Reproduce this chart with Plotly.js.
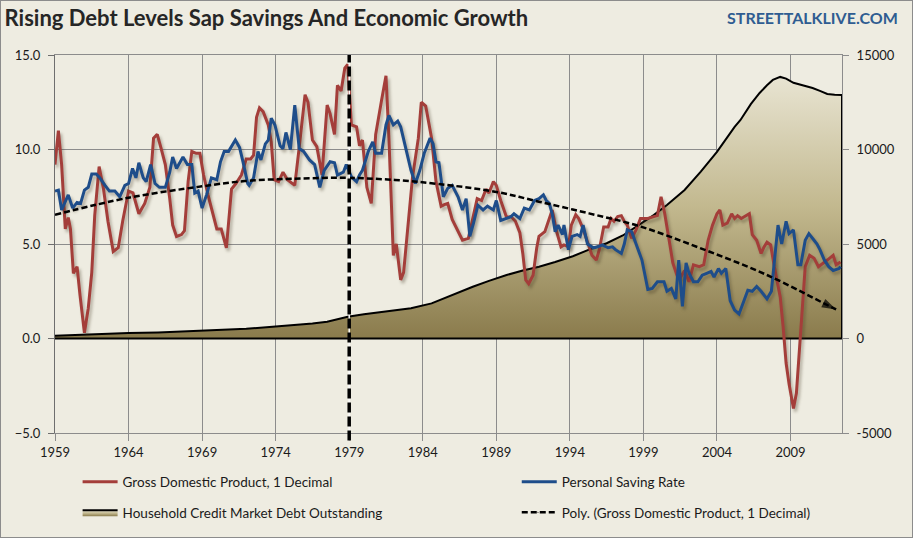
<!DOCTYPE html>
<html><head><meta charset="utf-8">
<script src="https://cdn.plot.ly/plotly-3.0.1.min.js"></script>
<style>
html,body{margin:0;padding:0;background:#EEECE1;}
#wrap{position:relative;width:913px;height:538px;}
#chart{width:913px;height:538px;}
#frame{position:absolute;left:0;top:0;width:913px;height:538px;box-sizing:border-box;border:1px solid #8c8c8c;pointer-events:none;}
.tracegdp .js-line, .tracesav .js-line {filter: drop-shadow(2px 3px 1.5px rgba(60,50,30,0.35));}
</style></head>
<body><div id="wrap"><div id="chart"></div><div id="frame"></div></div>
<script>
// ---- data ----
const tickYears = [1959, 1964, 1969, 1974, 1979, 1984, 1989, 1994, 1999, 2004, 2009];
const leftTicks = [-5, 0, 5, 10, 15];
const rightTicks = [-5000, 0, 5000, 10000, 15000];
const markYear = 1979;

const gdpYears = [1959.0,1959.23,1959.45,1959.7,1959.9,1960.05,1960.25,1960.5,1960.7,1961.0,1961.26,1961.5,1961.7,1962.0,1962.3,1962.6,1962.96,1963.3,1963.6,1964.0,1964.3,1964.7,1965.1,1965.45,1965.7,1965.95,1966.2,1966.5,1966.8,1967.0,1967.26,1967.6,1967.8,1968.05,1968.3,1968.6,1968.85,1969.1,1969.4,1969.75,1970.0,1970.3,1970.65,1971.0,1971.3,1971.67,1972.0,1972.3,1972.5,1972.7,1972.9,1973.15,1973.5,1973.7,1973.9,1974.2,1974.5,1974.8,1975.3,1975.6,1976.0,1976.2,1976.5,1976.8,1977.15,1977.5,1977.7,1978.0,1978.2,1978.45,1978.7,1978.9,1979.15,1979.5,1979.7,1979.9,1980.2,1980.5,1980.8,1981.2,1981.5,1981.7,1982.0,1982.2,1982.5,1982.7,1983.0,1983.3,1983.7,1983.9,1984.2,1984.6,1984.9,1985.25,1985.5,1985.7,1986.0,1986.4,1986.7,1987.1,1987.4,1987.7,1988.0,1988.3,1988.5,1988.8,1989.0,1989.3,1989.7,1990.0,1990.3,1990.6,1990.8,1991.0,1991.2,1991.5,1991.75,1991.9,1992.3,1992.6,1992.8,1993.1,1993.4,1993.6,1993.9,1994.1,1994.4,1994.6,1994.9,1995.2,1995.5,1995.8,1996.0,1996.3,1996.6,1996.8,1997.0,1997.25,1997.5,1997.7,1997.9,1998.2,1998.5,1998.8,1999.3,1999.7,1999.95,2000.2,2000.45,2000.75,2001.0,2001.3,2001.5,2001.8,2002.1,2002.4,2002.8,2003.1,2003.4,2003.7,2004.0,2004.2,2004.4,2004.7,2005.0,2005.2,2005.4,2005.65,2005.95,2006.2,2006.4,2006.7,2007.0,2007.2,2007.4,2007.65,2007.9,2008.15,2008.3,2008.5,2008.7,2008.9,2009.2,2009.4,2009.6,2009.8,2010.0,2010.3,2010.6,2010.9,2011.2,2011.5,2011.9,2012.1,2012.4];
const gdpValues = [9.2,11.0,9.2,5.8,6.4,5.8,3.45,3.8,2.3,0.3,1.6,3.5,6.5,9.1,7.9,6.2,4.6,4.8,6.2,7.8,7.7,6.6,7.15,8.0,10.6,10.8,10.1,9.2,7.4,6.0,5.4,5.5,5.7,8.3,9.9,9.8,9.8,8.65,7.6,6.5,5.8,5.8,4.8,7.9,8.2,8.65,9.5,9.5,9.7,11.7,12.2,12.0,11.3,10.4,8.4,8.3,8.8,8.4,8.1,10.1,12.9,12.5,10.5,10.15,8.65,12.35,11.9,10.8,13.4,13.1,14.3,14.5,11.3,11.2,10.2,10.5,8.0,7.15,10.8,12.6,13.9,10.6,4.4,5.0,3.1,3.5,6.2,8.5,10.6,12.5,12.3,10.6,8.3,7.0,7.1,7.15,6.3,5.65,5.2,5.3,6.3,7.4,7.3,7.9,7.7,8.3,8.1,7.3,6.4,6.45,6.2,5.6,4.5,3.1,2.9,3.35,4.8,5.4,5.65,6.3,6.8,5.65,4.85,4.95,4.85,6.0,6.55,6.35,5.8,5.1,4.4,4.15,4.7,5.9,5.9,6.35,6.2,6.45,6.5,6.2,6.0,5.3,5.75,6.35,6.35,6.45,6.5,7.5,6.6,5.2,4.0,3.3,3.2,3.6,3.0,3.9,3.8,3.9,5.2,6.0,6.6,6.8,6.0,6.1,6.6,6.35,6.5,6.35,6.5,6.6,5.5,5.2,4.5,4.85,5.1,4.95,3.8,2.9,2.2,0.6,-1.3,-2.4,-3.7,-2.9,-0.8,1.7,3.8,4.4,4.25,3.8,4.0,4.15,4.4,3.9,4.05];

const savYears = [1959.0,1959.23,1959.45,1959.7,1959.9,1960.2,1960.5,1960.74,1961.0,1961.26,1961.5,1961.8,1962.05,1962.4,1962.7,1963.07,1963.4,1963.75,1964.0,1964.27,1964.5,1964.7,1965.0,1965.2,1965.5,1965.8,1966.1,1966.5,1966.8,1967.0,1967.26,1967.7,1968.0,1968.3,1968.5,1968.73,1969.0,1969.3,1969.63,1970.0,1970.25,1970.5,1970.8,1971.26,1971.55,1971.78,1972.1,1972.2,1972.5,1972.8,1973.0,1973.3,1973.5,1973.7,1973.95,1974.3,1974.5,1974.7,1975.0,1975.3,1975.6,1975.9,1976.3,1976.65,1977.0,1977.3,1977.7,1978.0,1978.2,1978.6,1978.8,1979.15,1979.5,1979.7,1979.9,1980.3,1980.6,1980.8,1981.2,1981.5,1981.7,1982.0,1982.3,1982.5,1982.9,1983.2,1983.5,1983.8,1984.1,1984.5,1984.7,1984.9,1985.1,1985.4,1985.7,1986.0,1986.4,1986.7,1986.95,1987.2,1987.45,1987.75,1988.1,1988.4,1988.8,1989.0,1989.3,1989.7,1990.0,1990.2,1990.6,1990.9,1991.25,1991.6,1991.9,1992.2,1992.4,1992.6,1992.8,1993.0,1993.2,1993.5,1993.6,1993.9,1994.15,1994.5,1994.7,1994.9,1995.2,1995.6,1995.9,1996.2,1996.6,1996.9,1997.1,1997.5,1997.7,1997.9,1998.2,1998.5,1998.7,1998.9,1999.3,1999.6,1999.95,2000.4,2000.6,2000.9,2001.2,2001.4,2001.65,2001.9,2002.1,2002.4,2002.7,2003.0,2003.3,2003.6,2003.8,2004.1,2004.3,2004.6,2004.9,2005.2,2005.5,2005.8,2006.1,2006.4,2006.7,2007.0,2007.4,2007.7,2007.9,2008.15,2008.4,2008.7,2008.9,2009.2,2009.5,2009.7,2010.0,2010.25,2010.6,2010.8,2011.0,2011.3,2011.6,2011.9,2012.3,2012.4];
const savValues = [7.8,7.85,6.8,7.2,7.6,6.9,7.2,7.15,7.85,8.0,8.7,8.7,8.5,8.1,7.8,7.8,7.5,8.1,8.2,9.0,8.5,9.3,8.5,8.3,9.2,8.2,8.0,8.0,8.8,9.6,9.0,9.6,9.2,9.2,7.7,7.8,6.9,7.6,8.5,8.4,9.35,9.9,9.9,10.5,10.1,9.35,8.2,8.1,8.5,9.9,9.45,10.3,10.5,11.65,11.3,10.2,10.05,10.9,10.0,12.35,10.05,9.9,9.45,9.2,8.0,8.9,9.35,9.3,8.65,8.8,9.2,8.55,8.3,8.65,8.9,9.9,10.4,9.8,9.8,11.3,11.8,11.3,11.5,11.2,9.8,8.9,8.2,8.9,9.8,10.6,10.3,9.35,9.3,7.5,7.95,8.1,7.5,6.8,7.4,5.4,6.1,7.05,6.8,7.0,6.8,7.3,6.25,6.35,6.45,6.6,6.35,6.9,6.8,7.3,7.4,7.6,7.3,7.15,6.6,5.65,6.0,5.5,6.0,4.7,5.4,5.5,5.4,6.0,5.0,4.8,4.85,4.95,4.8,4.85,4.7,4.5,5.0,5.75,5.65,5.0,4.6,4.15,2.6,2.65,3.0,3.0,2.5,2.65,2.1,4.15,1.7,4.0,3.45,3.0,3.0,3.35,3.45,3.55,3.25,3.7,3.45,3.7,2.0,1.5,1.3,1.95,2.55,2.5,2.75,2.5,2.1,2.5,4.15,6.0,5.0,6.2,5.55,5.75,3.9,3.9,5.2,5.55,5.2,5.0,4.7,4.15,3.8,3.6,3.7,3.8];

const debtYears = [1959.0,1960.5,1962.0,1964.0,1966.0,1968.0,1970.0,1972.0,1974.0,1975.3,1976.5,1977.5,1978.9,1980.0,1981.0,1982.0,1983.2,1984.6,1985.5,1986.5,1987.4,1988.5,1989.7,1990.8,1991.9,1993.0,1994.2,1995.3,1996.5,1997.6,1998.7,1999.7,2000.6,2001.8,2002.9,2004.0,2005.2,2005.6,2006.3,2006.9,2007.4,2007.8,2008.3,2008.7,2009.2,2009.8,2010.5,2011.0,2011.5,2012.0,2012.5];
const debtValues = [150,200,240,290,320,380,440,510,630,710,800,890,1150,1280,1370,1470,1600,1860,2150,2450,2740,3050,3360,3600,3800,4050,4350,4700,5040,5450,6000,6530,7060,7860,8830,9880,11200,11560,12400,12990,13400,13680,13840,13750,13530,13400,13250,13100,12940,12900,12880];

const trendYears = [1959, 1964, 1969, 1971.9, 1975, 1978.7, 1982.1, 1985.1, 1988.9, 1991.9, 1995.3, 1998.7, 2002.9, 2007.4, 2011.6, 2012.1];
const trendValues = [6.55, 7.45, 8.05, 8.33, 8.45, 8.5, 8.39, 8.17, 7.77, 7.24, 6.62, 5.95, 4.77, 3.36, 1.73, 1.54];

// ---- styling ----
const FONT = 'Lato, "Liberation Sans Narrow", "DejaVu Sans Condensed", sans-serif';
const BG = '#EEECE1';
const GRID = '#8c8c8c';
const TXT = '#1a1a1a';

// closed outline for the area (built from the data arrays)
const debtX = debtYears.concat([debtYears[debtYears.length - 1], debtYears[0]]);
const debtY = debtValues.concat([0, 0]);
const arrowSizes = trendYears.map((_, i) => (i === trendYears.length - 1 ? 15 : 0));

const traces = [
  {x: gdpYears, y: gdpValues, yaxis: 'y2', type: 'scatter', mode: 'lines', uid: 'gdp',
   name: 'Gross Domestic Product, 1 Decimal', line: {color: '#A43E3A', width: 3},
   legend: 'legend', legendgroup: 'a', hoverinfo: 'skip'},
  {x: savYears, y: savValues, yaxis: 'y2', type: 'scatter', mode: 'lines', uid: 'sav',
   name: 'Personal Saving Rate', line: {color: '#1E4D8A', width: 3},
   legend: 'legend2', legendgroup: 'b', hoverinfo: 'skip'},
  {x: debtX, y: debtY, yaxis: 'y', type: 'scatter', mode: 'lines', fill: 'toself',
   fillgradient: {type: 'vertical', colorscale: [[0, '#8A7B4C'], [0.5, '#C2B88E'], [1, '#E8E4D2']]},
   name: 'Household Credit Market Debt Outstanding', line: {color: '#000000', width: 2},
   legend: 'legend', legendgroup: 'c', hoverinfo: 'skip'},
  {x: trendYears, y: trendValues, yaxis: 'y2', type: 'scatter', mode: 'lines+markers',
   name: 'Poly. (Gross Domestic Product, 1 Decimal)',
   line: {color: '#000000', width: 2.5, dash: '6px,3px', shape: 'spline'},
   marker: {symbol: 'arrow', angleref: 'previous', size: arrowSizes, color: '#000000',
            line: {width: 0}},
   legend: 'legend2', legendgroup: 'd', hoverinfo: 'skip'}
];

const legendBase = {
  orientation: 'v', xref: 'container', yref: 'container', xanchor: 'left', yanchor: 'top',
  y: 0.133,
  bgcolor: 'rgba(0,0,0,0)', traceorder: 'grouped', tracegroupgap: 10,
  itemwidth: 35, font: {family: FONT, size: 13.5, color: TXT}
};

const layout = {
  width: 913, height: 538, autosize: false,
  margin: {l: 55, r: 71, t: 55, b: 105, autoexpand: false},
  paper_bgcolor: BG, plot_bgcolor: BG,
  title: {text: 'Rising Debt Levels Sap Savings And Economic Growth', xref: 'container', yref: 'container',
          x: 0.005, xanchor: 'left', y: 0.966, yanchor: 'middle',
          font: {family: FONT, size: 22, weight: 'bold', color: '#262626'}},
  showlegend: true,
  legend: Object.assign({}, legendBase, {x: 0.085}),
  legend2: Object.assign({}, legendBase, {x: 0.566}),
  xaxis: {type: 'linear', range: [1959, 2012.5], tickvals: tickYears, ticktext: tickYears.map(String),
          showgrid: true, gridcolor: GRID, gridwidth: 1, zeroline: false,
          showline: true, linecolor: GRID, linewidth: 1, mirror: true,
          ticks: 'outside', ticklen: 7, tickcolor: GRID,
          tickfont: {family: FONT, size: 13, color: TXT}, fixedrange: true},
  yaxis: {range: [-5000, 15000], side: 'right', tickvals: rightTicks, ticktext: rightTicks.map(String),
          showgrid: true, gridcolor: GRID, gridwidth: 1, zeroline: false,
          showline: true, linecolor: GRID, linewidth: 1,
          ticks: 'outside', ticklen: 6, tickcolor: GRID, ticklabelstandoff: 5,
          tickfont: {family: FONT, size: 13, color: TXT}, fixedrange: true},
  yaxis2: {range: [-5, 15], side: 'left', overlaying: 'y', tickvals: leftTicks, tickformat: '.1f',
           showgrid: false, zeroline: false, showline: true, linecolor: '#6e6e6e', linewidth: 1,
           ticks: 'outside', ticklen: 6, tickcolor: '#6e6e6e', ticklabelstandoff: 5,
           tickfont: {family: FONT, size: 13, color: TXT}, fixedrange: true},
  shapes: [
    {type: 'line', xref: 'x', yref: 'paper', x0: markYear, x1: markYear, y0: -0.02, y1: 1,
     line: {color: '#ffffff', width: 1.5}, layer: 'above'},
    {type: 'line', xref: 'x', yref: 'paper', x0: markYear, x1: markYear, y0: -0.02, y1: 1,
     line: {color: '#000000', width: 3.5, dash: '10px,4px'}, layer: 'above'}
  ],
  annotations: [
    {text: 'STREETTALKLIVE.COM', xref: 'paper', yref: 'paper', x: 1.0737, y: 1.098,
     xanchor: 'right', yanchor: 'middle', showarrow: false,
     font: {family: FONT, size: 16, weight: 'bold', color: '#2F5C91'}}
  ]
};

Plotly.newPlot('chart', traces, layout, {staticPlot: true, displayModeBar: false});
</script>
</body></html>
